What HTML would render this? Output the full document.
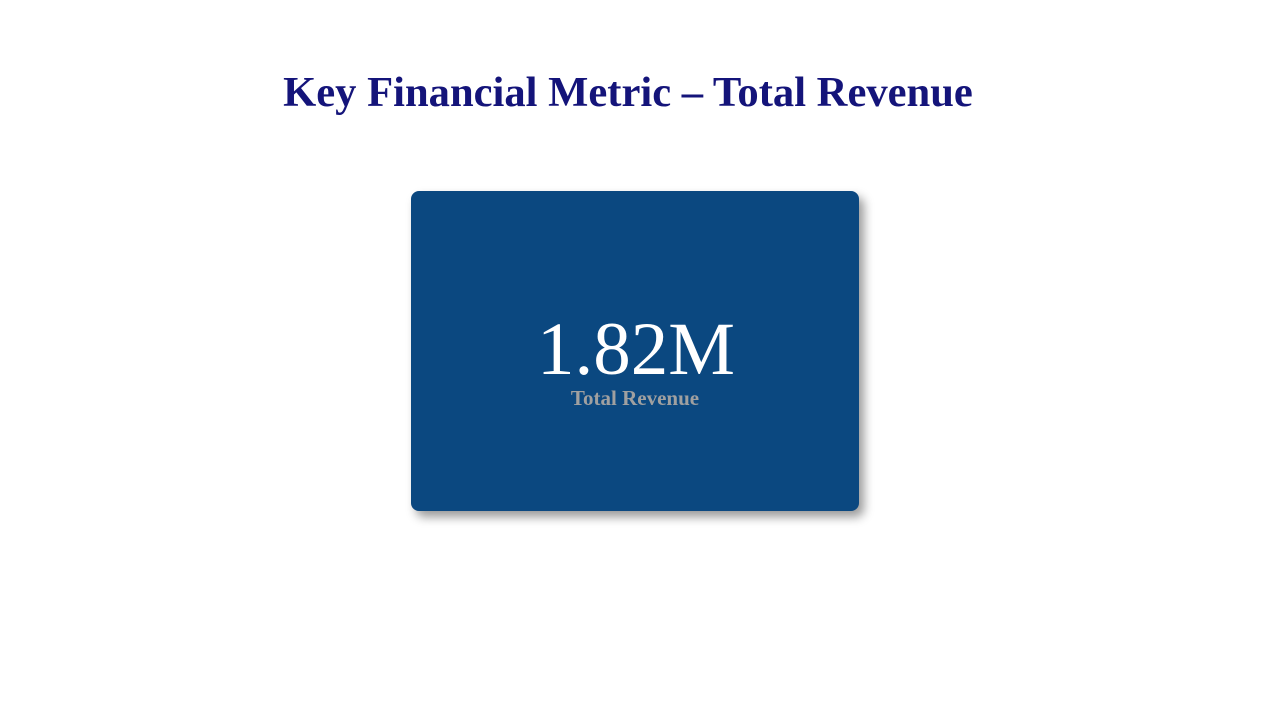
<!DOCTYPE html>
<html>
<head>
<meta charset="utf-8">
<style>
  html,body{margin:0;padding:0;background:#fff;width:1268px;height:710px;overflow:hidden;}
  #title{position:absolute;left:0;top:68px;width:1256px;text-align:center;font-family:"Liberation Serif",serif;font-weight:bold;font-size:42.6px;color:#14147a;margin:0;}
  #card{position:absolute;left:411px;top:191px;width:448px;height:320px;background:#0b4880;border-radius:8px;box-shadow:5px 6px 10px rgba(0,0,0,0.4);}
  #value{position:absolute;left:0;top:305px;width:1272px;text-align:center;font-family:"Liberation Serif",serif;font-size:75px;color:#fff;line-height:90px;}
  #label{position:absolute;left:0;top:385px;width:1270px;text-align:center;font-family:"Liberation Serif",serif;font-weight:bold;font-size:21px;color:#a0a0a0;line-height:27px;}
</style>
</head>
<body>
<h1 id="title">Key Financial Metric – Total Revenue</h1>
<div id="card"></div>
<div id="value">1.82M</div>
<div id="label">Total Revenue</div>
</body>
</html>
